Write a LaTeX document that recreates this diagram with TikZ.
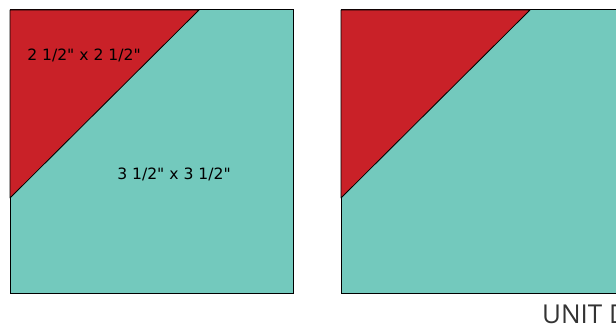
\documentclass[tikz,border=0pt]{standalone}
\usepackage{fontspec}
\newfontfamily\labfont{DejaVu Sans}
\newfontfamily\unitfont{Open Sans}
\definecolor{quiltred}{RGB}{201,33,40}
\definecolor{quiltteal}{RGB}{115,201,189}
\begin{document}
\begin{tikzpicture}[x=1pt,y=-1pt,
  square/.style={fill=quiltteal,draw=black,line width=1pt},
  tri/.style={fill=quiltred,draw=black,line width=0.8pt,line join=round},
  lab/.style={font=\labfont\fontsize{15.6}{18}\selectfont,text=black,inner sep=0pt},
  unit/.style={font=\unitfont\fontsize{26}{30}\selectfont,text=black!80,inner sep=0pt}]
\useasboundingbox (0,0) rectangle (616,326);
\clip (0,0) rectangle (616,326);
% left block
\draw[square] (10,10) rectangle (293,293);
\draw[tri] (10,10) -- (199,10) -- (10,198) -- cycle;
\node[lab] (small) at (84,55) {2 1/2" x 2 1/2"};
\node[lab] (big) at (174,174) {3 1/2" x 3 1/2"};
% right block
\draw[square] (341,10) rectangle (900,293);
\draw[tri] (341,10) -- (530,10) -- (341,198) -- cycle;
\node[unit,anchor=base west] (unitd) at (542,323) {UNIT D};
\end{tikzpicture}
\end{document}
